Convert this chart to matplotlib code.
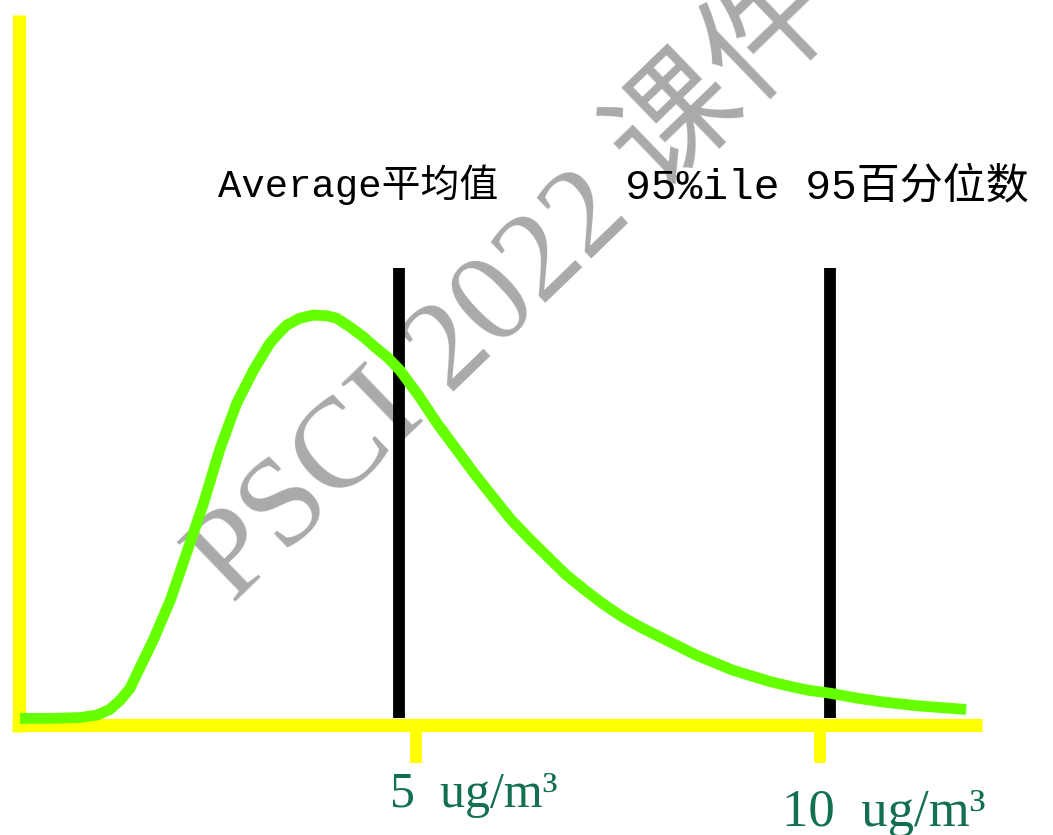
import matplotlib
matplotlib.use("Agg")
import matplotlib.pyplot as plt

# Concentration (ug/m3) and relative frequency of the skewed distribution
conc = [0.10, 0.51, 0.84, 1.05, 1.21, 1.34, 1.46, 1.58, 1.75, 1.96, 2.16,
        2.37, 2.57, 2.78, 2.99, 3.09, 3.19, 3.30, 3.40, 3.56, 3.73, 3.90,
        4.02, 4.18, 4.35, 4.51, 4.64, 4.80, 5.03, 5.26, 5.49, 5.72, 5.95,
        6.18, 6.41, 6.63, 6.86, 7.09, 7.32, 7.55, 7.78, 8.01, 8.24, 8.47,
        8.69, 8.92, 9.15, 9.38, 9.61, 9.84, 10.13, 10.43, 10.76, 11.21, 11.81]
freq = [0.4, 0.4, 0.6, 1.2, 2.6, 4.9, 7.8, 12.8, 19.8, 29.6, 41.2,
        53.5, 66.7, 78.2, 86.4, 89.7, 93.0, 95.5, 97.5, 99.2, 100.0, 99.8,
        99.2, 97.1, 94.6, 91.8, 89.7, 86.4, 80.2, 73.3, 67.1, 60.9, 55.1,
        49.4, 44.6, 40.3, 35.8, 32.1, 28.6, 25.5, 22.9, 20.6, 18.3, 16.0,
        14.2, 12.3, 10.9, 9.5, 8.4, 7.4, 6.6, 5.5, 4.5, 3.5, 2.6]

# Reference markers
marker_x = [4.79, 10.12]
marker_labels = ["Average平均值", "95%ile 95百分位数"]
marker_label_x = [2.55, 7.59]
marker_label_y = [132.1, 131.6]
marker_label_size = [28, 31]

# Axis ticks
tick_x = [5, 10]
tick_labels = ["5  ug/m³", "10  ug/m³"]
tick_label_x = [4.68, 9.53]
tick_label_y = [-18.5, -23.0]
tick_label_size = [36, 38]

YELLOW = "#ffff00"
GREEN = "#66ff00"
TEAL = "#12704f"

fig = plt.figure(figsize=(10.53, 8.35), dpi=100)
ax = fig.add_axes([0, 0, 1, 1])
ax.set_xlim(-0.1485, 12.884)
ax.set_ylim(-28.4, 177.8)
ax.axis("off")

# Watermark
ax.text(0.489, 0.654, "PSCI 2022 课件", transform=ax.transAxes,
        rotation=44, rotation_mode="anchor", ha="center", va="center",
        fontsize=92, color="#aaaaaa",
        family=["Liberation Serif", "Noto Sans CJK SC"], zorder=1)

# Yellow axes with two tick marks
ax.plot([0.087, 0.087], [-3.0, 174.0], color=YELLOW, lw=9.5,
        solid_capstyle="butt", zorder=2)
ax.plot([0.0, 12.0], [-1.2, -1.2], color=YELLOW, lw=9.5,
        solid_capstyle="butt", zorder=2)
for tx in tick_x:
    ax.plot([tx, tx], [-1.2, -10.6], color=YELLOW, lw=8.5,
            solid_capstyle="butt", zorder=2)

# Vertical markers
for mx in marker_x:
    ax.plot([mx, mx], [0.5, 111.6], color="black", lw=8.5,
            solid_capstyle="butt", zorder=3)

# Distribution curve
ax.plot(conc, freq, color=GREEN, lw=7.8, solid_capstyle="butt",
        solid_joinstyle="round", zorder=4)

# Marker labels
for lx, ly, lab, fs in zip(marker_label_x, marker_label_y, marker_labels,
                           marker_label_size):
    ax.text(lx, ly, lab, ha="left", va="center", fontsize=fs,
            color="black", family=["Liberation Mono", "Noto Sans CJK SC"])

# Tick labels
for lx, ly, lab, fs in zip(tick_label_x, tick_label_y, tick_labels,
                           tick_label_size):
    ax.text(lx, ly, lab, ha="left", va="center", fontsize=fs,
            color=TEAL, family="Liberation Serif")

# Page number
ax.text(0.985, -0.006, "20", transform=ax.transAxes, ha="center", va="center",
        fontsize=9, color="#555555", family="Liberation Serif")

fig.savefig("out.png", dpi=100)
